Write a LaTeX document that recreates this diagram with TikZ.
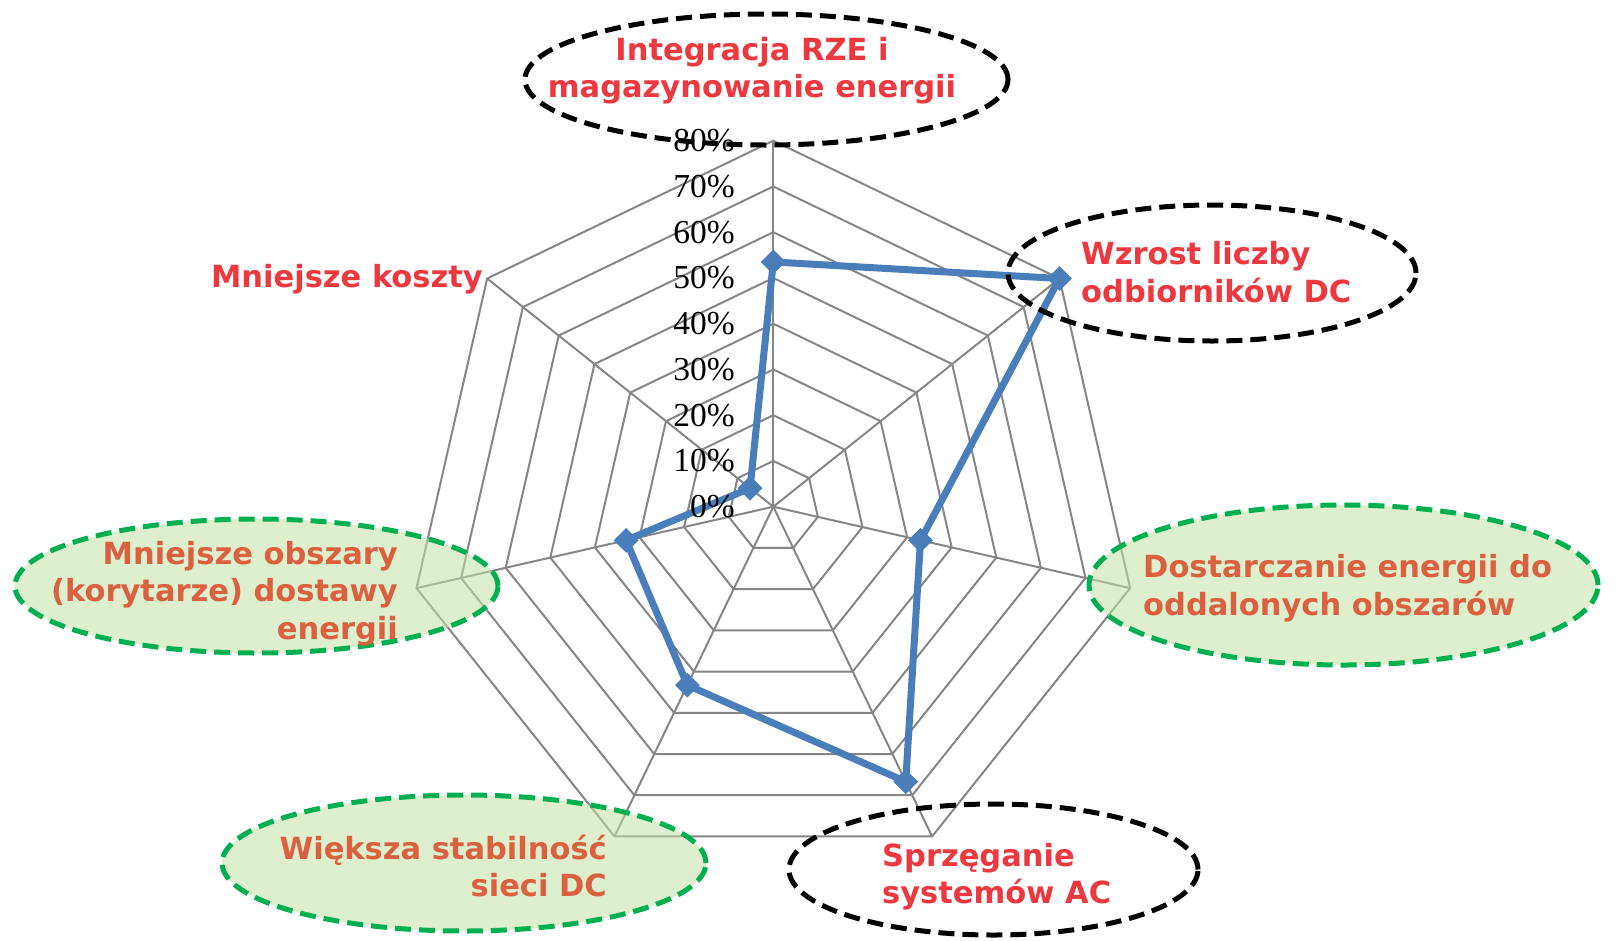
\documentclass[tikz,border=0pt]{standalone}
\usepackage{fontspec}
\setmainfont{DejaVu Sans}
\newfontfamily\pctfont{Liberation Serif}
\usetikzlibrary{shapes.geometric}
\definecolor{gridgray}{RGB}{134,134,134}
\definecolor{seriesblue}{RGB}{74,126,187}
\definecolor{labelred}{RGB}{238,56,64}
\definecolor{labelorange}{RGB}{219,96,64}
\definecolor{ovalgreen}{RGB}{0,176,80}
\definecolor{ovalfill}{RGB}{196,226,166}

\begin{document}
\begin{tikzpicture}[x=1pt,y=-1pt,
  gridline/.style={draw=gridgray,line width=2pt},
  series/.style={draw=seriesblue,line width=7pt,line join=round},
  marker/.style={diamond,fill=seriesblue,inner sep=0pt,minimum size=25pt},
  oval/.style={ellipse,line width=5pt,dash pattern=on 16pt off 8pt,inner sep=0pt},
  blackoval/.style={oval,draw=black},
  greenoval/.style={oval,draw=ovalgreen,fill=ovalfill,fill opacity=0.55},
  pct/.style={font=\pctfont\fontsize{33.5}{36}\selectfont,anchor=east,inner sep=0pt},
  cat/.style={font=\bfseries\fontsize{30.5}{37.5}\selectfont,inner sep=0pt},
]
\useasboundingbox (0,0) rectangle (1619,940);
\fill[white] (0,0) rectangle (1619,940);

% radar grid: 8 rings of 10% and 7 spokes
\begin{scope}[shift={(773.3,506.7)},yscale=-1]
  \foreach \k in {1,...,8}
    \draw[gridline] (90:\k*45.75) \foreach \i in {1,...,6} {-- (90-\i*360/7:\k*45.75)} -- cycle;
  \foreach \i in {0,...,6}
    \draw[gridline] (0,0) -- (90-\i*360/7:366);
  % data series (values in %)
  \foreach \v [count=\i from 0] in {53.5,80,33,66.7,43.3,33,6.5}
    \coordinate (d\i) at (90-\i*360/7:\v*4.575);
  \draw[series] (d0) -- (d1) -- (d2) -- (d3) -- (d4) -- (d5) -- (d6) -- cycle;
  \foreach \i in {0,...,6}
    \node[marker] (m\i) at (d\i) {};
\end{scope}

% category ovals
\node[blackoval,minimum width=483pt,minimum height=131pt] (ovA) at (766.5,79.5) {};
\node[blackoval,minimum width=408pt,minimum height=136pt] (ovB) at (1212,273) {};
\node[greenoval,minimum width=509pt,minimum height=160pt] (ovC) at (1343.5,585) {};
\node[blackoval,minimum width=409pt,minimum height=131pt] (ovD) at (993.5,869.5) {};
\node[greenoval,minimum width=484pt,minimum height=136pt] (ovE) at (464,863) {};
\node[greenoval,minimum width=483pt,minimum height=134pt] (ovF) at (256.5,586) {};

% axis scale
\foreach \k/\t in {0/0,1/10,2/20,3/30,4/40,5/50,6/60,7/70,8/80}
  \node[pct] (p\k) at (735,506.7-\k*45.75) {\t\%};

% category labels
\node[cat,text=labelred,align=center] (tA) at (752,70.5) {Integracja RZE i\\magazynowanie energii};
\node[cat,text=labelred,align=left,anchor=west] (tB) at (1081,272) {Wzrost liczby\\odbiorników DC};
\node[cat,text=labelorange,align=left,anchor=west] (tC) at (1143,588) {Dostarczanie energii do\\oddalonych obszarów};
\node[cat,text=labelred,align=left,anchor=west] (tD) at (882,876.5) {Sprzęganie\\systemów AC};
\node[cat,text=labelorange,align=right,anchor=east] (tE) at (607,866) {Większa stabilność\\sieci DC};
\node[cat,text=labelorange,align=right,anchor=east] (tF) at (398,593.5) {Mniejsze obszary\\(korytarze) dostawy\\energii};
\node[cat,text=labelred,anchor=base east] (tG) at (483,287) {Mniejsze koszty};
\end{tikzpicture}
\end{document}
